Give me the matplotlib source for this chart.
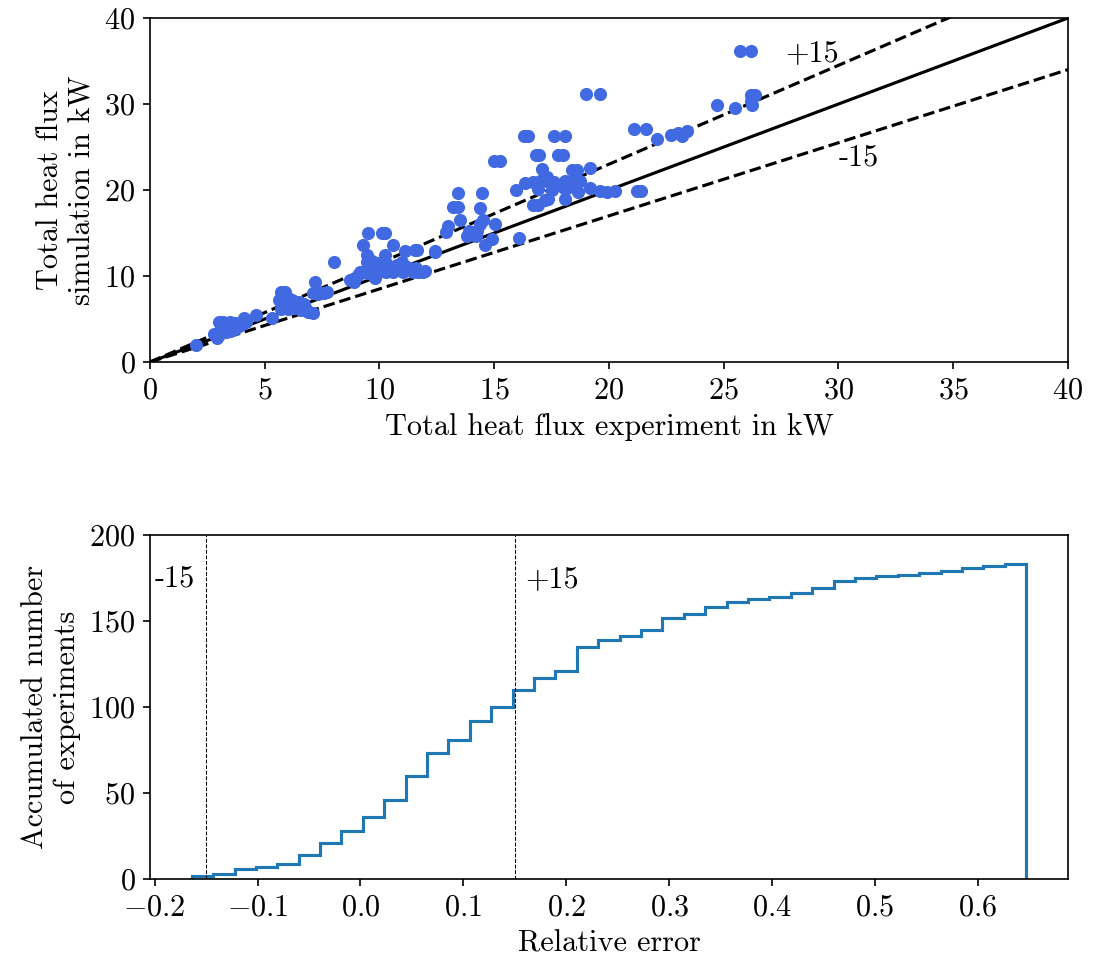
import matplotlib
matplotlib.use('Agg')
import matplotlib.pyplot as plt
import numpy as np

plt.rcParams['font.family'] = 'serif'
plt.rcParams['font.serif'] = ['cmr10']
plt.rcParams['mathtext.fontset'] = 'cm'
plt.rcParams['axes.formatter.use_mathtext'] = True
plt.rcParams['font.size'] = 14.5

# experiment / simulation total heat flux (kW)
exp_kw = [2.0, 2.8, 2.9, 3.0, 3.3, 3.5, 3.7, 3.1, 3.3, 3.5, 3.7, 3.9, 4.0, 3.3, 3.5,
          4.1, 4.2, 4.6, 5.3, 5.7, 5.9, 5.6, 6.0, 6.2, 5.7, 6.0, 6.4, 6.7, 6.6, 6.9,
          7.1, 7.2, 7.1, 7.4, 7.7, 8.0, 8.9, 8.7, 5.8, 6.3, 6.5, 5.9, 7.3, 7.6, 3.6,
          3.2, 5.8, 6.8,
          9.5, 10.1, 10.25, 9.3, 10.6, 9.45, 10.25, 11.1, 11.55, 11.65, 12.4,
          9.44, 9.66, 9.88, 10.17, 10.46, 10.75, 10.9, 11.2, 11.33, 11.47, 11.04, 10.6,
          10.3, 10.0, 9.73, 9.44, 9.15, 9.08, 11.7, 11.9, 10.0, 10.3, 9.8, 9.6, 11.0,
          11.6, 12.0,
          13.4, 14.45, 13.2, 13.4, 14.4, 13.5, 12.9, 13.0, 13.8, 13.9, 14.4, 14.5, 14.2,
          14.25, 14.6, 14.9, 15.05, 15.0, 15.25, 16.1, 12.4,
          15.95, 16.35, 16.3, 16.45, 16.8, 16.95, 17.1, 17.6, 18.1, 17.8, 18.0, 16.7,
          16.9, 17.2, 17.35, 16.7, 17.0, 17.3, 17.6, 17.5, 18.05, 18.1, 18.4, 18.6,
          19.17, 18.1, 18.45, 18.74, 18.16, 18.66, 19.17, 19.6, 19.9, 20.26, 16.9,
          17.3, 18.3,
          25.7, 26.2, 26.2, 26.35, 26.2, 26.25, 24.7, 25.5, 21.1, 21.6, 22.1, 22.7,
          23.0, 23.2, 23.4, 19.0, 19.6, 21.2, 21.4]
sim_kw = [2.0, 3.3, 2.8, 4.6, 4.5, 4.6, 4.5, 4.1, 3.9, 4.2, 3.8, 4.2, 4.4, 3.5, 3.6,
          5.1, 4.6, 5.5, 5.1, 8.1, 8.1, 7.2, 7.4, 7.2, 6.2, 6.2, 6.6, 6.8, 6.0, 5.8,
          5.7, 9.3, 8.0, 8.0, 8.1, 11.6, 9.3, 9.5, 7.6, 6.3, 7.0, 6.8, 7.9, 8.0, 4.0,
          4.7, 6.5, 6.2,
          15.0, 15.0, 15.0, 13.6, 13.6, 12.4, 12.4, 12.9, 13.0, 13.0, 12.9,
          11.66, 11.7, 11.5, 11.1, 11.1, 11.3, 10.9, 11.1, 10.9, 10.5, 10.5, 10.5,
          10.5, 10.5, 10.3, 10.3, 10.5, 10.1, 10.5, 10.5, 11.3, 11.5, 9.8, 10.9, 11.6,
          10.9, 10.6,
          19.6, 19.6, 18.0, 18.0, 17.9, 16.5, 15.1, 15.8, 14.7, 15.2, 16.1, 16.5, 14.6,
          15.2, 13.6, 14.3, 16.0, 23.4, 23.4, 14.4, 12.8,
          20.0, 20.8, 26.3, 26.3, 24.1, 24.1, 22.4, 26.3, 26.3, 24.1, 24.1, 18.3,
          18.3, 18.8, 18.9, 20.9, 21.0, 21.1, 20.9, 20.0, 20.2, 18.9, 22.3, 22.3,
          22.6, 21.05, 21.0, 21.05, 20.2, 19.8, 20.2, 19.9, 19.8, 19.9, 20.1,
          21.5, 20.5,
          36.2, 36.2, 31.0, 31.0, 30.4, 29.9, 29.9, 29.5, 27.1, 27.1, 25.9, 26.4,
          26.6, 26.3, 26.9, 31.2, 31.2, 19.9, 19.9]

# accumulated number of experiments per relative-error bin
err_lo, err_hi = -0.164, 0.647
cum_counts = [2, 3, 6, 7, 9, 14, 21, 28, 36, 46, 60, 73, 81, 92, 100, 110, 117, 121,
              135, 139, 141, 145, 152, 154, 158, 161, 163, 164, 166, 169, 173, 175,
              176, 177, 178, 179, 181, 182, 183]

fig = plt.figure(figsize=(1094 / 150, 969 / 150), dpi=150)

ax1 = fig.add_axes([0.1371, 0.6264, 0.8391, 0.3550])
ref = np.array([0, 40])
ax1.scatter(exp_kw, sim_kw, s=28, color='royalblue', zorder=3)
ax1.plot(ref, ref, 'k-')
ax1.plot(ref, 1.15 * ref, 'k--')
ax1.plot(ref, 0.85 * ref, 'k--')
ax1.text(27.7, 35, '+15')
ax1.text(30, 22.8, '-15')
ax1.set_xlim(0, 40)
ax1.set_ylim(0, 40)
ax1.set_xlabel('Total heat flux experiment in kW')
ax1.set_ylabel('Total heat flux\nsimulation in kW')

ax2 = fig.add_axes([0.1371, 0.0929, 0.8391, 0.3550])
edges = np.linspace(err_lo, err_hi, len(cum_counts) + 1)
ax2.stairs(cum_counts, edges, color='tab:blue', linewidth=1.5)
ax2.axvline(-0.15, color='k', ls='--', lw=0.5)
ax2.axvline(0.15, color='k', ls='--', lw=0.5)
ax2.text(-0.2, 170, '-15')
ax2.text(0.16, 170, '+15')
ax2.set_ylim(0, 200)
ax2.set_xlabel('Relative error')
ax2.set_ylabel('Accumulated number\nof experiments')

fig.savefig('out.png', dpi=150)
